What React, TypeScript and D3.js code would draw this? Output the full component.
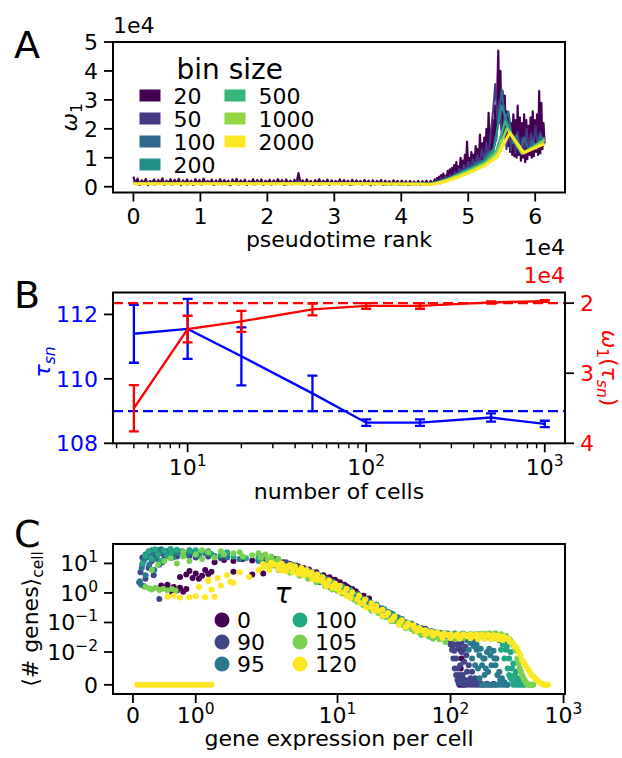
import React from "react";
import * as d3 from "d3";

// ---------------- Panel A data (ω1 ×1e4 vs pseudotime rank ×1e4) ----------------
const binLabels = ["20", "50", "100", "200", "500", "1000", "2000"];
const binColors = ["#440154", "#443983", "#31688e", "#21918c", "#35b779", "#90d743", "#fde725"];
const rankMax = 6.14;
const rankSplit = 4.5;
const rankTicks = [0, 1, 2, 3, 4, 5, 6];
const omegaTicks = [0, 1, 2, 3, 4, 5];

// bin size 20: early ranks (0 – 4.47) and late ranks (4.5 – 6.14)
const omegaBin20Early = [
  0.35, 0.10, 0.28, 0.06, 0.22, 0.12, 0.27, 0.05, 0.20, 0.14,
  0.25, 0.08, 0.23, 0.11, 0.29, 0.06, 0.21, 0.13, 0.26, 0.07,
  0.24, 0.10, 0.27, 0.05, 0.22, 0.12, 0.25, 0.09, 0.21, 0.06,
  0.26, 0.11, 0.23, 0.07, 0.28, 0.10, 0.20, 0.13, 0.24, 0.06,
  0.22, 0.09, 0.26, 0.08, 0.23, 0.12, 0.21, 0.05, 0.25, 0.10,
  0.27, 0.07, 0.22, 0.11, 0.24, 0.06, 0.20, 0.12, 0.26, 0.08,
  0.23, 0.10, 0.25, 0.06, 0.21, 0.13, 0.24, 0.07, 0.22, 0.09,
  0.26, 0.11, 0.23, 0.06, 0.25, 0.10, 0.21, 0.08, 0.24, 0.12,
  0.47, 0.09, 0.22, 0.07, 0.25, 0.11, 0.20, 0.06, 0.23, 0.10,
  0.26, 0.08, 0.21, 0.12, 0.24, 0.06, 0.22, 0.09, 0.20, 0.11,
  0.25, 0.07, 0.23, 0.10, 0.21, 0.06, 0.24, 0.09, 0.22, 0.12,
  0.20, 0.07, 0.23, 0.10, 0.21, 0.05, 0.22, 0.08, 0.20, 0.11,
  0.23, 0.06, 0.21, 0.09, 0.19, 0.07, 0.22, 0.10, 0.20, 0.06,
  0.21, 0.08, 0.19, 0.06, 0.20, 0.09, 0.18, 0.07, 0.20, 0.06,
  0.19, 0.08, 0.21, 0.07, 0.20, 0.09,
];
const omegaBin20Late = [
  0.25, 0.10, 0.30, 0.14, 0.35, 0.12, 0.40, 0.18, 0.45, 0.20, 0.38, 0.22, 0.55, 0.25, 0.60, 0.30, 0.65,
  0.32, 0.75, 0.35, 0.85, 0.40, 0.70, 0.45, 1.00, 0.50, 0.90, 0.55, 1.10, 0.60, 1.56, 0.65,
  1.00, 0.60, 1.20, 0.70, 1.10, 0.75, 1.40, 0.80, 1.30, 0.85, 1.80, 0.90, 1.50, 0.95, 1.70,
  1.00, 2.00, 1.10, 2.55, 1.20, 1.90, 1.30, 2.30, 1.40, 2.80, 1.60, 3.20,
  4.70, 2.20, 4.00, 2.00, 3.30, 1.80,
  3.15, 1.60, 2.60, 1.40, 2.40, 1.20, 2.20, 1.10, 2.50, 1.05, 2.30, 1.00, 2.80,
  1.10, 2.40, 0.90, 2.20, 1.00, 2.50, 0.85, 2.30, 0.95, 2.10, 1.10, 2.40, 1.00,
  2.60, 1.05, 2.30, 1.20, 2.50, 1.10, 3.30, 1.15, 2.90, 1.30, 2.20, 1.50,
];
const omegaBin50Early = [
  0.20, 0.08, 0.15, 0.10, 0.17, 0.07, 0.14, 0.11, 0.16, 0.08,
  0.13, 0.10, 0.17, 0.07, 0.15, 0.09, 0.14, 0.11, 0.16, 0.08,
  0.15, 0.10, 0.13, 0.07, 0.16, 0.09, 0.14, 0.11, 0.15, 0.08,
  0.17, 0.10, 0.13, 0.08, 0.15, 0.09, 0.16, 0.07, 0.14, 0.10,
  0.22, 0.08, 0.15, 0.10, 0.13, 0.07, 0.15, 0.09, 0.14, 0.08,
  0.16, 0.10, 0.13, 0.07, 0.14, 0.09, 0.15, 0.08, 0.13, 0.10,
  0.14, 0.07, 0.13, 0.09, 0.12, 0.08, 0.14, 0.07, 0.12, 0.09,
  0.13, 0.08, 0.12,
];
const omegaBin50Late = [
  0.15, 0.22, 0.18, 0.28, 0.22, 0.35, 0.28, 0.42, 0.33, 0.50, 0.40, 0.62, 0.48, 0.75, 0.55, 0.85, 0.62,
  0.95, 0.70, 1.10, 0.80, 1.30, 0.90, 1.50, 1.05, 1.90, 2.60, 3.55, 2.20, 3.00, 1.60, 2.40, 1.30, 2.00,
  1.25, 1.80, 1.15, 1.90, 1.20, 1.70, 1.30, 2.00, 1.25, 1.85, 1.40, 2.10, 1.35, 1.90, 1.50, 1.70,
];
const omegaBin100: [number, number][] = [
  [0, 0.13], [0.15, 0.1], [0.3, 0.14], [0.45, 0.11], [0.6, 0.13], [0.75, 0.1], [0.9, 0.12], [1.05, 0.1],
  [1.2, 0.13], [1.35, 0.11], [1.5, 0.12], [1.65, 0.1], [1.8, 0.12], [1.95, 0.11], [2.1, 0.12], [2.25, 0.1],
  [2.4, 0.13], [2.55, 0.11], [2.7, 0.12], [2.85, 0.1], [3.0, 0.12], [3.15, 0.1], [3.3, 0.11], [3.45, 0.1],
  [3.6, 0.12], [3.75, 0.1], [3.9, 0.11], [4.05, 0.1], [4.2, 0.11], [4.35, 0.1], [4.5, 0.13], [4.62, 0.22],
  [4.74, 0.3], [4.86, 0.45], [4.98, 0.62], [5.06, 0.7], [5.14, 0.85], [5.22, 0.9], [5.3, 1.2], [5.36, 1.1],
  [5.42, 1.7], [5.5, 3.35], [5.55, 2.3], [5.6, 2.6], [5.66, 1.5], [5.72, 1.8], [5.78, 1.3], [5.84, 1.7],
  [5.9, 1.25], [5.96, 1.6], [6.02, 1.3], [6.08, 1.8], [6.14, 1.45],
];
const omegaBin200: [number, number][] = [
  [0, 0.11], [0.3, 0.1], [0.6, 0.12], [0.9, 0.1], [1.2, 0.11], [1.5, 0.1], [1.8, 0.11], [2.1, 0.1],
  [2.4, 0.11], [2.7, 0.1], [3.0, 0.11], [3.3, 0.1], [3.6, 0.1], [3.9, 0.1], [4.2, 0.1], [4.5, 0.12],
  [4.65, 0.22], [4.8, 0.38], [4.95, 0.55], [5.1, 0.7], [5.25, 0.9], [5.38, 1.3], [5.5, 2.8], [5.62, 1.95],
  [5.74, 1.35], [5.86, 1.2], [5.98, 1.45], [6.06, 1.5], [6.14, 1.7],
];
const omegaBin500: [number, number][] = [
  [0, 0.1], [0.5, 0.1], [1, 0.1], [1.5, 0.1], [2, 0.1], [2.5, 0.1], [3, 0.1], [3.5, 0.1], [4, 0.09],
  [4.45, 0.1], [4.65, 0.22], [4.85, 0.42], [5.05, 0.62], [5.25, 0.85], [5.42, 1.25], [5.55, 2.25],
  [5.68, 1.6], [5.8, 1.15], [5.95, 1.35], [6.14, 1.65],
];
const omegaBin1000: [number, number][] = [
  [0, 0.1], [0.8, 0.1], [1.6, 0.1], [2.4, 0.1], [3.2, 0.1], [4.0, 0.09], [4.5, 0.1], [4.75, 0.3],
  [5.0, 0.52], [5.25, 0.8], [5.42, 1.15], [5.58, 2.02], [5.8, 1.15], [6.0, 1.4], [6.14, 1.6],
];
const omegaBin2000: [number, number][] = [
  [0, 0.1], [0.6, 0.1], [1.2, 0.1], [1.8, 0.1], [2.4, 0.1], [3.0, 0.1], [3.6, 0.1], [4.2, 0.09],
  [4.45, 0.08], [4.65, 0.17], [4.85, 0.33], [5.05, 0.52], [5.25, 0.74], [5.43, 1.02], [5.62, 1.87],
  [5.83, 1.17], [6.03, 1.38], [6.14, 1.48],
];

// ---------------- Panel B data ----------------
const cellCounts = [5, 10, 20, 50, 100, 200, 500, 1000];
const tauSn = [111.4, 111.55, 110.7, 109.55, 108.64, 108.64, 108.8, 108.6];
const tauSnErr = [0.9, 0.93, 0.9, 0.55, 0.1, 0.1, 0.13, 0.1];
const omegaSn = [3.5, 2.37, 2.26, 2.09, 2.04, 2.04, 1.99, 1.97];
const omegaSnErr = [0.33, 0.19, 0.15, 0.085, 0.04, 0.04, 0.015, 0.012];
const tauRef = 109.0;
const omegaRef = 2.0;
const tauTicks = [108, 110, 112];
const omegaTicksB = [2, 3, 4];
const cellMajorTicks = [10, 100, 1000];
const cellTickExp = ["1", "2", "3"];

// ---------------- Panel C data ----------------
const tauLabels = ["0", "90", "95", "100", "105", "120"];
const tauColors = ["#440154", "#414487", "#2a788e", "#22a884", "#7ad151", "#fde725"];
const exprTicks = [0, 1, 10, 100, 1000];
const exprTickExp = ["", "0", "1", "2", "3"];
const genesTicks = [10, 1, 0.1, 0.01, 0];
const genesTickExp = ["1", "0", "\u22121", "\u22122", ""];

const genesTau0: [number, number][] = [
  [0.45, 1.8], [0.5, 1.5], [0.55, 1.9], [0.6, 1.3], [0.65, 1.6], [0.7, 1.2], [0.75, 1.5], [0.8, 1.1], [0.85, 1.35], [0.62, 1.1],
  [0.75, 3.5], [0.85, 4.2], [0.95, 3.2], [1.0, 4.6], [1.1, 3.8], [1.2, 4.4], [1.05, 3.0], [0.9, 5.5], [1.15, 6], [1.25, 5.2],
  [1.3, 11], [1.45, 13], [1.6, 12], [1.75, 14], [1.9, 12.5], [2.1, 13.5], [2.3, 12], [2.5, 13], [2.7, 11.5], [2.9, 12], [3.1, 10.5],
  [1.6, 5.2], [1.9, 4.2], [2.2, 4.6],
  [3.5, 9], [4, 8], [4.5, 7], [5.2, 6], [6, 5], [7, 3.8], [8, 3.2], [9, 2.8], [10, 2.3], [11, 1.9], [12.5, 1.5], [13, 1.3],
  [14, 1.1], [15, 0.95], [16, 0.8], [18, 0.58],
  [3.3, 11], [3.8, 9.5], [4.3, 8.5], [5, 7], [5.6, 6.2], [6.5, 5], [7.5, 4], [8.5, 3.4], [9.5, 2.8], [10.5, 2.3],
  [11.5, 1.9], [12, 1.7], [13.5, 1.35], [14.5, 1.15], [17, 0.8], [19, 0.65],
  [22, 0.4], [28, 0.22], [35, 0.14], [45, 0.09], [60, 0.06], [80, 0.045], [100, 0.035],
  [110, 0.025], [118, 0.018], [122, 0.012], [125, 0.008], [128, 0.0005], [132, 0], [120, 0],
  [112, 0.03], [116, 0.022], [119, 0.014], [123, 0.005], [126, 0.002], [127, 0],
];
const genesTau90: [number, number][] = [
  [0.1, 2.3], [0.12, 5], [0.15, 9], [0.18, 14], [0.2, 3], [0.22, 20], [0.25, 7], [0.28, 25], [0.3, 12], [0.33, 4],
  [0.35, 18], [0.42, 0.62], [0.4, 28], [0.42, 9], [0.45, 22], [0.5, 15], [0.55, 26], [0.6, 19], [0.65, 24], [0.7, 17],
  [0.15, 16], [0.25, 24], [0.35, 28], [0.5, 24], [0.6, 30],
  [0.8, 21], [0.9, 18], [1.0, 16], [1.2, 17], [1.4, 15], [1.7, 14], [2.0, 13], [2.5, 11], [3, 9.5], [3.5, 8], [4, 6.5],
  [5, 5], [6, 3.8], [7, 3], [8.5, 2.2], [10, 1.6], [12, 1.1], [15, 0.75], [18, 0.5], [22, 0.35], [27, 0.22], [33, 0.15],
  [40, 0.1], [50, 0.075], [60, 0.055], [75, 0.042], [90, 0.034],
  [1.5, 22], [2.2, 17], [2.8, 14], [3.5, 11], [4.5, 8], [5.5, 6], [6.5, 4.6], [8, 3], [9.5, 2.1], [11, 1.5],
  [13.5, 1.0], [16, 0.7], [20, 0.45], [25, 0.3], [30, 0.2], [37, 0.13], [45, 0.09], [55, 0.065], [68, 0.05], [82, 0.04],
  [100, 0.022], [105, 0.016], [108, 0.011], [112, 0.008], [116, 0.005], [120, 0.003], [125, 0.0012], [110, 0.02],
  [118, 0.015], [125, 0.01], [132, 0.007], [140, 0.004], [150, 0.002], [160, 0.0008], [130, 0], [140, 0], [150, 0],
  [160, 0], [170, 0], [180, 0], [190, 0], [200, 0], [215, 0], [230, 0], [250, 0], [135, 0.0015], [145, 0.0005],
  [128, 0.003], [122, 0.006],
  [100, 0.03], [104, 0.026], [100, 0.018], [103, 0.012], [106, 0.008], [109, 0.005], [112, 0.003], [115, 0.0015],
  [118, 0.0005], [125, 0.02], [135, 0.015], [130, 0.012], [138, 0.009], [145, 0.006], [155, 0.004], [165, 0.002],
  [175, 0.001], [185, 0.0005], [210, 0.0003], [240, 0.0003],
];
const genesTau95: [number, number][] = [
  [0.11, 2.5], [0.14, 7], [0.17, 12], [0.2, 4], [0.23, 16], [0.26, 9], [0.3, 22], [0.34, 6], [0.38, 14], [0.42, 25],
  [0.47, 11], [0.52, 20], [0.58, 28], [0.64, 16], [0.7, 22], [0.78, 26], [0.86, 20], [0.95, 24], [1.05, 19], [1.15, 22],
  [0.2, 20], [0.3, 28], [0.45, 30], [0.6, 22], [0.9, 28], [1.2, 26], [0.13, 1.9], [0.18, 1.7],
  [1.3, 18], [1.5, 16], [1.7, 14], [2.0, 12], [2.4, 10], [2.8, 8.5], [3.3, 7], [4, 5.5], [4.8, 4.2], [5.7, 3.2],
  [7, 2.3], [8.5, 1.6], [10, 1.2], [12, 0.85], [14.5, 0.6], [17, 0.45], [20, 0.32], [24, 0.23], [29, 0.16], [35, 0.11],
  [42, 0.08], [50, 0.06], [60, 0.048], [72, 0.04], [85, 0.036], [100, 0.035], [115, 0.033], [130, 0.03],
  [3, 10], [4, 7.5], [5, 6], [6.5, 4], [8, 2.8], [9.5, 2], [11, 1.5], [13, 1.1], [16, 0.7], [19, 0.48], [23, 0.33],
  [28, 0.22], [34, 0.15], [41, 0.1], [49, 0.075], [58, 0.058], [70, 0.048], [82, 0.044], [95, 0.042], [110, 0.042],
  [125, 0.04], [140, 0.035], [150, 0.03], [160, 0.024], [170, 0.018], [185, 0.013], [195, 0.008], [205, 0.005],
  [225, 0.009], [240, 0.011], [255, 0.008], [270, 0.004], [285, 0.002], [300, 0.0008], [320, 0],
  [140, 0.025], [150, 0.02], [160, 0.016], [170, 0.012], [180, 0.009], [145, 0.012], [155, 0.008], [165, 0.006],
  [175, 0.005], [190, 0.006], [200, 0.008], [210, 0.01], [220, 0.013], [200, 0.003], [215, 0.004], [230, 0.006],
  [245, 0.008], [180, 0.002], [190, 0], [205, 0], [220, 0], [235, 0], [250, 0], [265, 0], [280, 0], [295, 0], [310, 0],
  [260, 0.003], [275, 0.0015], [250, 0.006],
];
const genesTau100: [number, number][] = [
  [0.15, 10], [0.2, 18], [0.25, 26], [0.3, 14], [0.35, 30], [0.4, 20], [0.45, 12], [0.5, 27], [0.55, 18], [0.62, 24],
  [0.7, 29], [0.8, 22], [0.9, 27], [1.0, 20], [1.1, 25], [1.25, 21], [1.4, 19], [1.6, 17], [1.8, 15], [2.1, 13],
  [0.6, 30], [1.0, 28], [1.5, 24], [2.0, 20],
  [2.5, 11], [3, 9], [3.5, 7.5], [4.2, 5.8], [5, 4.5], [6, 3.5], [7.2, 2.6], [8.6, 1.9], [10, 1.4], [12, 1],
  [14, 0.7], [16.5, 0.5], [19.5, 0.36], [23, 0.26], [27, 0.18], [32, 0.13], [38, 0.095], [45, 0.07], [53, 0.055],
  [62, 0.045], [73, 0.04], [86, 0.038], [100, 0.038], [120, 0.037], [140, 0.036], [165, 0.035], [190, 0.034],
  [220, 0.032], [250, 0.03],
  [2, 16], [3, 12], [4, 9], [5.5, 5.5], [7, 3.8], [9, 2.4], [11, 1.7], [13, 1.25], [15, 0.9], [18, 0.6], [22, 0.4],
  [26, 0.28], [31, 0.19], [37, 0.13], [44, 0.09], [52, 0.068], [62, 0.052], [75, 0.046], [90, 0.043],
  [110, 0.042], [130, 0.042], [150, 0.041], [175, 0.04], [200, 0.04], [230, 0.037], [260, 0.034], [285, 0.028],
  [300, 0.02], [315, 0.015], [340, 0.01], [360, 0.0065], [380, 0.004], [400, 0.002], [410, 0.0008], [450, 0],
  [330, 0.003], [350, 0.0015],
  [270, 0.025], [290, 0.018], [310, 0.012], [330, 0.008], [350, 0.005], [370, 0.003], [390, 0.0015], [300, 0.008],
  [320, 0.005], [280, 0.012], [340, 0.002], [360, 0], [380, 0], [400, 0], [420, 0], [440, 0],
];
const genesTau105: [number, number][] = [
  [0.2, 1.6], [0.26, 1.45], [0.3, 1.3], [0.36, 1.5], [0.42, 1.25], [0.48, 1.4], [0.55, 1.2], [0.62, 1.35], [0.68, 1.2],
  [0.3, 6], [0.4, 9], [0.5, 12], [0.6, 15], [0.7, 10], [0.8, 17], [0.9, 12], [1.0, 20], [1.1, 14], [1.2, 24], [1.3, 16],
  [0.8, 25], [1.1, 28], [1.4, 26], [1.7, 24], [2.0, 22], [2.3, 20], [2.6, 17], [3.0, 14],
  [1.45, 20], [1.6, 22], [1.75, 17], [1.9, 19], [2.1, 16], [2.4, 14], [2.7, 12], [3.1, 10], [3.6, 8], [4.2, 6.2],
  [5, 4.6], [6, 3.3], [7, 2.5], [8.3, 1.8], [10, 1.25], [12, 0.85], [14, 0.6], [16.5, 0.42], [19.5, 0.3], [23, 0.21],
  [27, 0.15], [32, 0.11], [38, 0.08], [45, 0.06], [53, 0.046], [62, 0.038], [73, 0.033], [86, 0.03], [100, 0.03],
  [120, 0.032], [140, 0.036], [165, 0.04], [190, 0.042], [220, 0.043], [250, 0.043], [280, 0.04], [310, 0.035], [330, 0.028],
  [15, 0.5], [20, 0.25], [30, 0.11], [40, 0.065], [55, 0.038], [70, 0.028], [90, 0.022],
  [2.5, 7], [3, 6], [3.8, 4.8], [4.6, 3.8], [5.5, 3], [6.5, 2.3], [7.8, 1.7], [9, 1.3], [11, 0.95], [13, 0.7],
  [17, 0.38], [25, 0.16], [35, 0.085], [48, 0.05], [65, 0.033], [80, 0.027], [110, 0.027], [130, 0.03], [150, 0.033],
  [180, 0.038], [210, 0.04], [240, 0.04], [270, 0.038], [300, 0.033], [340, 0.024], [360, 0.017], [380, 0.011],
  [400, 0.0065], [420, 0.004], [440, 0.0022], [460, 0.001], [490, 0], [510, 0], [530, 0],
  [350, 0.02], [370, 0.013], [390, 0.008], [410, 0.005], [430, 0.003], [450, 0.0015], [470, 0.0005], [480, 0],
  [500, 0], [520, 0], [540, 0],
];
const genesTau120: [number, number][] = [
  [0.07, 0], [0.1, 0], [0.13, 0], [0.16, 0], [0.2, 0], [0.24, 0], [0.28, 0], [0.32, 0], [0.36, 0], [0.4, 0],
  [0.44, 0], [0.48, 0], [0.52, 0], [0.56, 0], [0.6, 0], [0.64, 0], [0.68, 0], [0.72, 0], [0.76, 0], [0.8, 0],
  [0.84, 0], [0.88, 0], [0.92, 0], [0.96, 0], [1.0, 0], [1.04, 0], [1.08, 0], [1.12, 0], [1.16, 0], [1.2, 0], [1.25, 0],
  [0.55, 0.75], [0.65, 0.8], [0.75, 0.7], [0.9, 0.72], [1.0, 0.78], [1.15, 0.72], [1.3, 0.75],
  [1.05, 1.6], [1.2, 2.5], [1.35, 3.2], [1.25, 1.3], [1.5, 4], [1.6, 2.2], [1.7, 5], [1.85, 3.5], [1.2, 2.8],
  [1.4, 1.8], [1.55, 2.4],
  [2.0, 6], [2.2, 7.5], [2.4, 8.5], [2.6, 9], [2.8, 9], [3.0, 8.8], [3.3, 8.5], [3.6, 7.5], [4.0, 6.8], [4.5, 5.8],
  [5.0, 5], [5.6, 4.2], [6.3, 3.4], [7, 2.8], [8, 2.1], [9, 1.7], [10, 1.4], [11.5, 1.05], [13, 0.8], [15, 0.6],
  [17, 0.45], [20, 0.33], [23, 0.25], [27, 0.18], [31, 0.14], [36, 0.105], [42, 0.08], [48, 0.065], [55, 0.055],
  [63, 0.047], [72, 0.042], [82, 0.039], [95, 0.037], [110, 0.036], [125, 0.035], [140, 0.035], [160, 0.034],
  [180, 0.034], [200, 0.033], [225, 0.033], [250, 0.032], [280, 0.031], [310, 0.028], [340, 0.022], [370, 0.015],
  [400, 0.01], [430, 0.0075], [460, 0.006], [490, 0.0045], [520, 0.003], [560, 0.002], [600, 0.001], [650, 0.0003],
  [680, 0], [700, 0], [730, 0],
  [2.5, 6], [3, 6.5], [3.5, 5.5], [4.5, 4.5], [6, 3], [8, 1.7], [12, 0.8], [18, 0.32], [25, 0.17], [35, 0.085],
  [50, 0.05], [70, 0.036], [100, 0.03], [150, 0.029], [200, 0.028], [260, 0.027],
  [2.2, 9.5], [2.6, 10.5], [3.2, 10], [3.8, 8.8], [4.2, 8], [4.8, 7], [5.3, 6], [5.9, 5], [6.6, 4.2], [7.4, 3.4],
  [8.4, 2.7], [9.5, 2.1], [10.5, 1.75], [12, 1.4], [13.5, 1.05], [15.5, 0.8], [17.5, 0.6], [20, 0.45], [22, 0.36],
  [25, 0.27], [28, 0.21], [32, 0.16], [37, 0.12], [42, 0.095], [47, 0.08], [53, 0.065], [60, 0.055], [68, 0.048],
  [77, 0.045], [88, 0.042], [100, 0.04], [115, 0.04], [130, 0.04], [150, 0.04], [170, 0.039], [190, 0.039],
  [215, 0.038], [240, 0.037], [265, 0.036], [295, 0.033], [325, 0.028], [355, 0.02], [385, 0.014], [415, 0.009],
  [445, 0.0068], [475, 0.0052], [505, 0.0038], [540, 0.0025], [580, 0.0015], [620, 0.0006], [660, 0.0001], [715, 0],
  [3.2, 5.8], [4, 5], [5, 4], [6.5, 2.8], [7.5, 2.3], [9, 1.5], [10.5, 1.1], [13, 0.7], [16, 0.45], [21, 0.26],
  [30, 0.12], [40, 0.07], [60, 0.04], [85, 0.03], [120, 0.028], [175, 0.027], [230, 0.027], [290, 0.025],
];
const genesSeries = [genesTau0, genesTau90, genesTau95, genesTau100, genesTau105, genesTau120];

// ---------------- helpers ----------------
const FONT = "'DejaVu Sans', sans-serif";
const FS = 22;

const symlog = (L: number) => (v: number) => {
  const s = 1 / (1 - 1 / 10);
  const a = Math.abs(v);
  return Math.sign(v) * (a <= L ? (a / L) * s : s + Math.log10(a / L));
};

const Pow10 = ({ exp }: { exp: string }) =>
  exp === "" ? null : (
    <>
      <tspan>10</tspan>
      <tspan dy={-9} fontSize={15.5}>{exp}</tspan>
    </>
  );

export default function App() {
  const L = 113, R = 565;
  const A = { top: 42, bottom: 192.5 };
  const B = { top: 292.5, bottom: 443.3 };
  const C = { top: 544, bottom: 694 };
  const TL = 9; // tick length
  const TW = 1.8;

  // Panel A scales
  const xA = d3.scaleLinear().domain([-0.305, 6.445]).range([L, R]);
  const yA = d3.scaleLinear().domain([-0.2, 5]).range([A.bottom, A.top]);
  const lineA = d3.line<[number, number]>().x((d) => xA(d[0])).y((d) => yA(d[1]));
  const spread = (vals: number[], x0: number, x1: number) =>
    vals.map((v, i) => [x0 + (i * (x1 - x0)) / (vals.length - 1), v] as [number, number]);
  const stepEarly20 = rankSplit / omegaBin20Early.length;
  const stepEarly50 = rankSplit / omegaBin50Early.length;
  const seriesA: [number, number][][] = [
    [...spread(omegaBin20Early, 0, rankSplit - stepEarly20), ...spread(omegaBin20Late, rankSplit, rankMax)],
    [...spread(omegaBin50Early, 0, rankSplit - stepEarly50), ...spread(omegaBin50Late, rankSplit, rankMax)],
    omegaBin100, omegaBin200, omegaBin500, omegaBin1000, omegaBin2000,
  ];
  const widthsA = [2.2, 2, 2, 2.2, 2.2, 2.4, 3];

  // Panel B scales
  const xB = d3.scaleLog().domain([3.82, 1298]).range([L, R]);
  const yBL = d3.scaleLinear().domain([108, 112.68]).range([B.bottom, B.top]);
  const yBR = d3.scaleLinear().domain([4, 1.848]).range([B.bottom, B.top]);
  const minorB = xB.ticks().filter((t) => !cellMajorTicks.includes(t));
  const lineBL = d3.line<number>().x((_, i) => xB(cellCounts[i])).y((d) => yBL(d));
  const lineBR = d3.line<number>().x((_, i) => xB(cellCounts[i])).y((d) => yBR(d));

  // Panel C scales
  const tX = symlog(2);
  const tY = symlog(0.01);
  const xCs = d3.scaleLinear().domain([tX(-0.318), tX(1030)]).range([L, R]);
  const yCs = d3.scaleLinear().domain([tY(-0.0028), tY(45.5)]).range([C.bottom, C.top]);
  const xC = (v: number) => xCs(tX(v));
  const yC = (v: number) => yCs(tY(v));

  const blue = "#0000ff";
  const red = "#ff0000";

  return (
    <svg
      width={622}
      height={758}
      style={{ position: "absolute", left: 0, top: 0, background: "#fff" }}
      fontFamily={FONT}
    >
      <defs>
        <clipPath id="clipA"><rect x={L} y={A.top} width={R - L} height={A.bottom - A.top} /></clipPath>
        <clipPath id="clipB"><rect x={L} y={B.top} width={R - L} height={B.bottom - B.top} /></clipPath>
        <clipPath id="clipC"><rect x={L} y={C.top} width={R - L} height={C.bottom - C.top} /></clipPath>
      </defs>
      <rect width={622} height={758} fill="#fff" />

      {/* ================= Panel A ================= */}
      <text x={14} y={58} fontSize={38}>A</text>
      <g clipPath="url(#clipA)">
        {seriesA.map((s, i) => (
          <path key={i} d={lineA(s) || ""} fill="none" stroke={binColors[i]} strokeWidth={widthsA[i]} strokeLinejoin="round" />
        ))}
      </g>
      <rect x={L} y={A.top} width={R - L} height={A.bottom - A.top} fill="none" stroke="#000" strokeWidth={2} />
      {omegaTicks.map((t) => (
        <g key={t}>
          <line x1={L - TL} x2={L} y1={yA(t)} y2={yA(t)} stroke="#000" strokeWidth={TW} />
          <text x={L - TL - 6} y={yA(t) + 8} fontSize={FS} textAnchor="end">{t}</text>
        </g>
      ))}
      {rankTicks.map((t) => (
        <g key={t}>
          <line x1={xA(t)} x2={xA(t)} y1={A.bottom} y2={A.bottom + TL} stroke="#000" strokeWidth={TW} />
          <text x={xA(t)} y={223.5} fontSize={FS} textAnchor="middle">{t}</text>
        </g>
      ))}
      <text x={L} y={33} fontSize={FS}>1e4</text>
      <text x={R} y={255} fontSize={FS} textAnchor="end">1e4</text>
      <text x={(L + R) / 2} y={246.5} fontSize={FS} textAnchor="middle">pseudotime rank</text>
      <text transform={`translate(77,${(A.top + A.bottom) / 2}) rotate(-90)`} fontSize={FS} textAnchor="middle">
        <tspan fontStyle="italic">ω</tspan>
        <tspan dy={5} fontSize={15.5}>1</tspan>
      </text>
      {/* legend A */}
      <text x={176.5} y={79} fontSize={28}>bin size</text>
      {binLabels.map((lab, i) => {
        const col = i < 4 ? 0 : 1;
        const row = i < 4 ? i : i - 4;
        const hx = col === 0 ? 139.5 : 224.5;
        const cy = 95.5 + row * 23;
        return (
          <g key={lab}>
            <rect x={hx} y={cy - 6} width={21} height={12} fill={binColors[i]} />
            <text x={hx + 34} y={cy + 8} fontSize={FS}>{lab}</text>
          </g>
        );
      })}

      {/* ================= Panel B ================= */}
      <text x={14} y={308} fontSize={38}>B</text>
      <g clipPath="url(#clipB)">
        <line x1={L} x2={R} y1={yBL(tauRef)} y2={yBL(tauRef)} stroke={blue} strokeWidth={2.3} strokeDasharray="10,5" />
        <path d={lineBL(tauSn) || ""} fill="none" stroke={blue} strokeWidth={2.3} />
        {cellCounts.map((c, i) => (
          <g key={c} stroke={blue} strokeWidth={2.3}>
            <line x1={xB(c)} x2={xB(c)} y1={yBL(tauSn[i] - tauSnErr[i])} y2={yBL(tauSn[i] + tauSnErr[i])} />
            <line x1={xB(c) - 5} x2={xB(c) + 5} y1={yBL(tauSn[i] - tauSnErr[i])} y2={yBL(tauSn[i] - tauSnErr[i])} />
            <line x1={xB(c) - 5} x2={xB(c) + 5} y1={yBL(tauSn[i] + tauSnErr[i])} y2={yBL(tauSn[i] + tauSnErr[i])} />
          </g>
        ))}
        <line x1={L} x2={R} y1={yBR(omegaRef)} y2={yBR(omegaRef)} stroke={red} strokeWidth={2.3} strokeDasharray="10,5" />
        <path d={lineBR(omegaSn) || ""} fill="none" stroke={red} strokeWidth={2.3} />
        {cellCounts.map((c, i) => (
          <g key={c} stroke={red} strokeWidth={2.3}>
            <line x1={xB(c)} x2={xB(c)} y1={yBR(omegaSn[i] - omegaSnErr[i])} y2={yBR(omegaSn[i] + omegaSnErr[i])} />
            <line x1={xB(c) - 5} x2={xB(c) + 5} y1={yBR(omegaSn[i] - omegaSnErr[i])} y2={yBR(omegaSn[i] - omegaSnErr[i])} />
            <line x1={xB(c) - 5} x2={xB(c) + 5} y1={yBR(omegaSn[i] + omegaSnErr[i])} y2={yBR(omegaSn[i] + omegaSnErr[i])} />
          </g>
        ))}
      </g>
      <rect x={L} y={B.top} width={R - L} height={B.bottom - B.top} fill="none" stroke="#000" strokeWidth={2} />
      {tauTicks.map((t) => (
        <g key={t}>
          <line x1={L - TL} x2={L} y1={yBL(t)} y2={yBL(t)} stroke="#000" strokeWidth={TW} />
          <text x={L - TL - 6} y={yBL(t) + 8} fontSize={FS} textAnchor="end" fill={blue}>{t}</text>
        </g>
      ))}
      {omegaTicksB.map((t) => (
        <g key={t}>
          <line x1={R} x2={R + TL} y1={yBR(t)} y2={yBR(t)} stroke="#000" strokeWidth={TW} />
          <text x={R + TL + 6} y={yBR(t) + 8} fontSize={FS} fill={red}>{t}</text>
        </g>
      ))}
      {cellMajorTicks.map((t, i) => (
        <g key={t}>
          <line x1={xB(t)} x2={xB(t)} y1={B.bottom} y2={B.bottom + TL} stroke="#000" strokeWidth={TW} />
          <text x={xB(t)} y={475} fontSize={FS} textAnchor="middle"><Pow10 exp={cellTickExp[i]} /></text>
        </g>
      ))}
      {minorB.map((t) => (
        <line key={t} x1={xB(t)} x2={xB(t)} y1={B.bottom} y2={B.bottom + 5} stroke="#000" strokeWidth={1.4} />
      ))}
      <text x={R} y={283} fontSize={FS} textAnchor="end" fill={red}>1e4</text>
      <text x={(L + R) / 2} y={499} fontSize={FS} textAnchor="middle">number of cells</text>
      <text transform={`translate(50,362) rotate(-90)`} fontSize={FS} textAnchor="middle" fill={blue}>
        <tspan fontStyle="italic">τ</tspan>
        <tspan dy={5} fontSize={15.5} fontStyle="italic">sn</tspan>
      </text>
      <text transform={`translate(602,368) rotate(90)`} fontSize={FS} textAnchor="middle" fill={red}>
        <tspan fontStyle="italic">ω</tspan>
        <tspan dy={5} fontSize={15.5}>1</tspan>
        <tspan dy={-5}>(</tspan>
        <tspan fontStyle="italic">τ</tspan>
        <tspan dy={5} fontSize={15.5} fontStyle="italic">sn</tspan>
        <tspan dy={-5}>)</tspan>
      </text>

      {/* ================= Panel C ================= */}
      <text x={14} y={547} fontSize={38}>C</text>
      <g clipPath="url(#clipC)">
        {genesSeries.map((pts, si) => (
          <g key={si} fill={tauColors[si]}>
            {pts.map((p, j) => (
              <circle key={j} cx={xC(p[0])} cy={yC(p[1])} r={3} />
            ))}
          </g>
        ))}
      </g>
      <rect x={L} y={C.top} width={R - L} height={C.bottom - C.top} fill="none" stroke="#000" strokeWidth={2} />
      {genesTicks.map((t, i) => (
        <g key={i}>
          <line x1={L - TL} x2={L} y1={yC(t)} y2={yC(t)} stroke="#000" strokeWidth={TW} />
          <text x={L - TL - 6} y={yC(t) + 8} fontSize={FS} textAnchor="end">
            {genesTickExp[i] === "" ? "0" : <Pow10 exp={genesTickExp[i]} />}
          </text>
        </g>
      ))}
      {exprTicks.map((t, i) => (
        <g key={i}>
          <line x1={xC(t)} x2={xC(t)} y1={C.bottom} y2={C.bottom + TL} stroke="#000" strokeWidth={TW} />
          <text x={xC(t)} y={723} fontSize={FS} textAnchor="middle">
            {exprTickExp[i] === "" ? "0" : <Pow10 exp={exprTickExp[i]} />}
          </text>
        </g>
      ))}
      <text x={(L + R) / 2} y={746} fontSize={FS} textAnchor="middle">gene expression per cell</text>
      <text transform={`translate(38,${(C.top + C.bottom) / 2}) rotate(-90)`} fontSize={FS} textAnchor="middle">
        <tspan>⟨# genes⟩</tspan>
        <tspan dy={5} fontSize={15.5}>cell</tspan>
      </text>
      {/* legend C */}
      <text x={283} y={603} fontSize={28} fontStyle="italic" textAnchor="middle">τ</text>
      {tauLabels.map((lab, i) => {
        const col = i < 3 ? 0 : 1;
        const row = i % 3;
        const mx = col === 0 ? 222 : 300;
        const cy = 620 + row * 22;
        return (
          <g key={lab}>
            <circle cx={mx} cy={cy} r={7.5} fill={tauColors[i]} />
            <text x={mx + 15} y={cy + 8} fontSize={FS}>{lab}</text>
          </g>
        );
      })}
    </svg>
  );
}
